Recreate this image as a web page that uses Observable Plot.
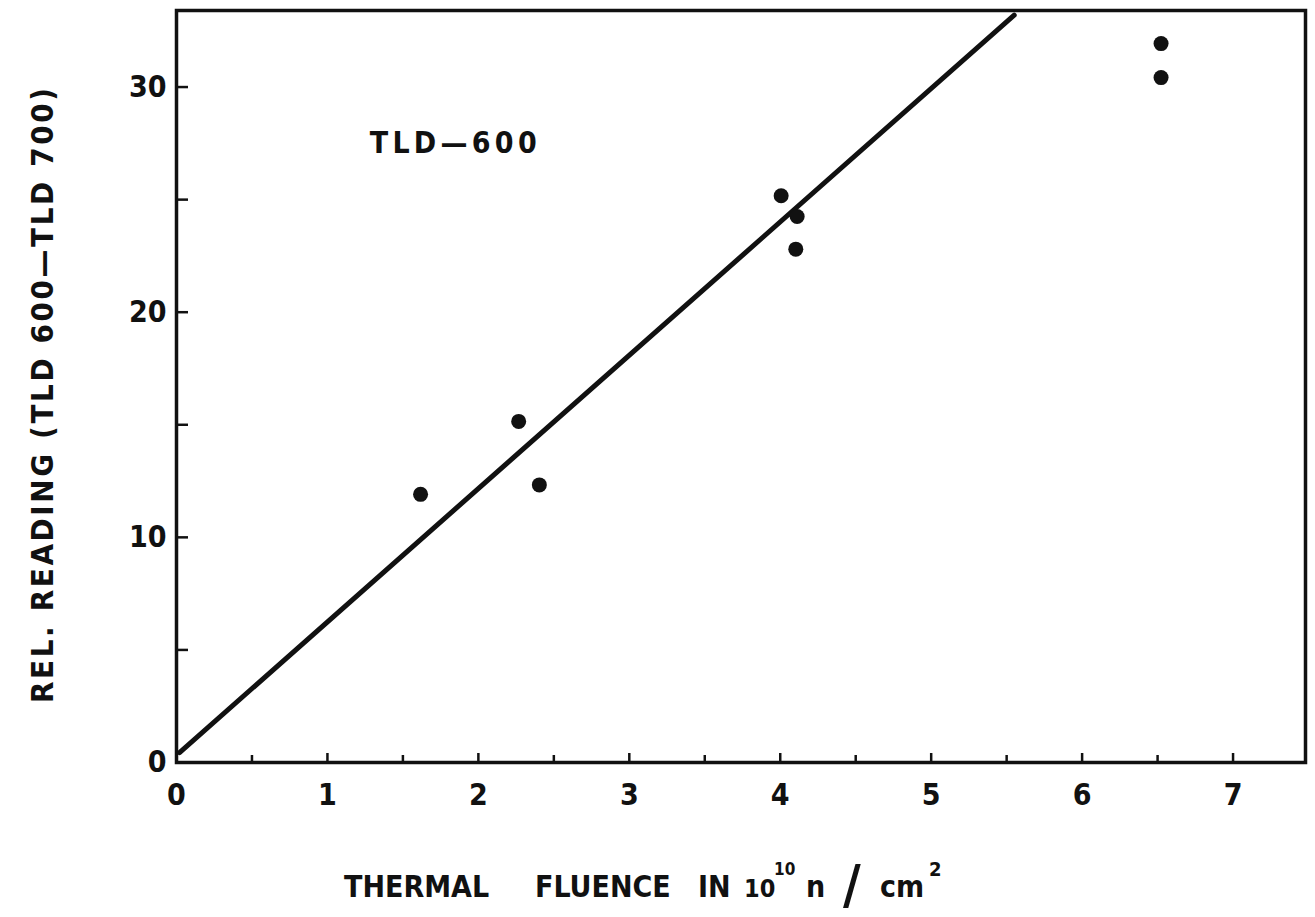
<!DOCTYPE html>
<html>
<head>
<meta charset="utf-8">
<script src="https://cdn.jsdelivr.net/npm/d3@7"></script>
<script src="https://cdn.jsdelivr.net/npm/@observablehq/plot@0.6"></script>
<style>
  html, body { margin: 0; padding: 0; background: #fff; }
  svg { display: block; }
  svg text { font-stretch: condensed; }
</style>
</head>
<body>
<div id="chart"></div>
<script>
// ---- data ----
const fluence = [1.617, 2.267, 2.404, 4.006, 4.112, 4.103, 6.523, 6.523];
const reading = [11.91, 15.15, 12.33, 25.17, 24.25, 22.80, 31.93, 30.42];
const fitX = [0.02, 5.55];
const fitY = [0.44, 33.19];
const xMajorTicks = [0, 1, 2, 3, 4, 5, 6, 7];
const xMinorTicks = [0.5, 1.5, 2.5, 3.5, 4.5, 5.5, 6.5];
const yMajorTicks = [0, 10, 20, 30];
const yAllTicks = [0, 5, 10, 15, 20, 25, 30];
const annotation = ["TLD—600"];
const annotationPos = {x: 1.28, y: 27.5};
const yTitle = "REL. READING (TLD 600—TLD 700)";

const points = fluence.map((f, i) => ({f, r: reading[i]}));
const fit = fitX.map((x, i) => ({x, y: fitY[i]}));
const ink = "#111";
const FONT = "'DejaVu Sans Condensed', 'DejaVu Sans', sans-serif";

const svg = Plot.plot({
  width: 1315,
  height: 917,
  marginLeft: 176,
  marginRight: 10,
  marginTop: 10,
  marginBottom: 155,
  style: {fontFamily: FONT, background: "#fff", color: ink},
  x: {domain: [0, 7.48]},
  y: {domain: [0, 33.4]},
  marks: [
    Plot.axisX({ticks: xMajorTicks, tickSize: -9, strokeWidth: 2.5, text: null, label: null}),
    Plot.axisX({ticks: xMinorTicks, tickSize: -7, strokeWidth: 2.5, text: null, label: null}),
    Plot.axisX({ticks: xMajorTicks, tickSize: 0, tickPadding: 21, fontSize: 30, fontWeight: "bold", label: null, tickFormat: d => String(d)}),
    Plot.axisY({ticks: yAllTicks, tickSize: -12, strokeWidth: 2.5, text: null, label: null}),
    Plot.axisY({ticks: yMajorTicks, tickSize: 0, tickPadding: 10, fontSize: 30, fontWeight: "bold", label: null, tickFormat: d => String(d)}),
    Plot.frame({stroke: ink, strokeWidth: 3.5}),
    Plot.line(fit, {x: "x", y: "y", stroke: ink, strokeWidth: 5, strokeLinecap: "round"}),
    Plot.dot(points, {x: "f", y: "r", r: 7.5, fill: ink, stroke: null}),
    Plot.text(annotation, {x: () => annotationPos.x, y: () => annotationPos.y, text: d => d, textAnchor: "start", fontSize: 30, fontWeight: "bold", fill: ink})
  ]
});

document.getElementById("chart").appendChild(svg);
const s = d3.select(svg);

// letter-spaced annotation
s.selectAll("text").filter(function() { return this.textContent === annotation[0]; })
  .attr("textLength", 167).attr("lengthAdjust", "spacing");

// y title (rotated)
s.append("text")
  .attr("transform", "translate(53,703) rotate(-90)")
  .attr("text-anchor", "start")
  .attr("font-family", FONT).attr("font-size", 31).attr("font-weight", "bold").attr("fill", ink)
  .attr("textLength", 615).attr("lengthAdjust", "spacing")
  .text(yTitle);

// x title pieces (natural widths)
const xt = s.append("g").attr("font-family", FONT).attr("font-weight", "bold").attr("fill", ink).attr("text-anchor", "start");
const pieces = [
  {t: "THERMAL", x: 344, y: 897, fs: 30},
  {t: "FLUENCE", x: 535, y: 897, fs: 30},
  {t: "IN", x: 698, y: 897, fs: 30},
  {t: "10", x: 744, y: 897, fs: 25},
  {t: "10", x: 774, y: 875, fs: 17},
  {t: "n", x: 806, y: 897, fs: 30},
  {t: "/", x: 843, y: 903, fs: 54},
  {t: "cm", x: 880, y: 897, fs: 30},
  {t: "2", x: 929, y: 876, fs: 20}
];
for (const p of pieces) {
  xt.append("text").attr("x", p.x).attr("y", p.y).attr("font-size", p.fs).text(p.t);
}
</script>
</body>
</html>
